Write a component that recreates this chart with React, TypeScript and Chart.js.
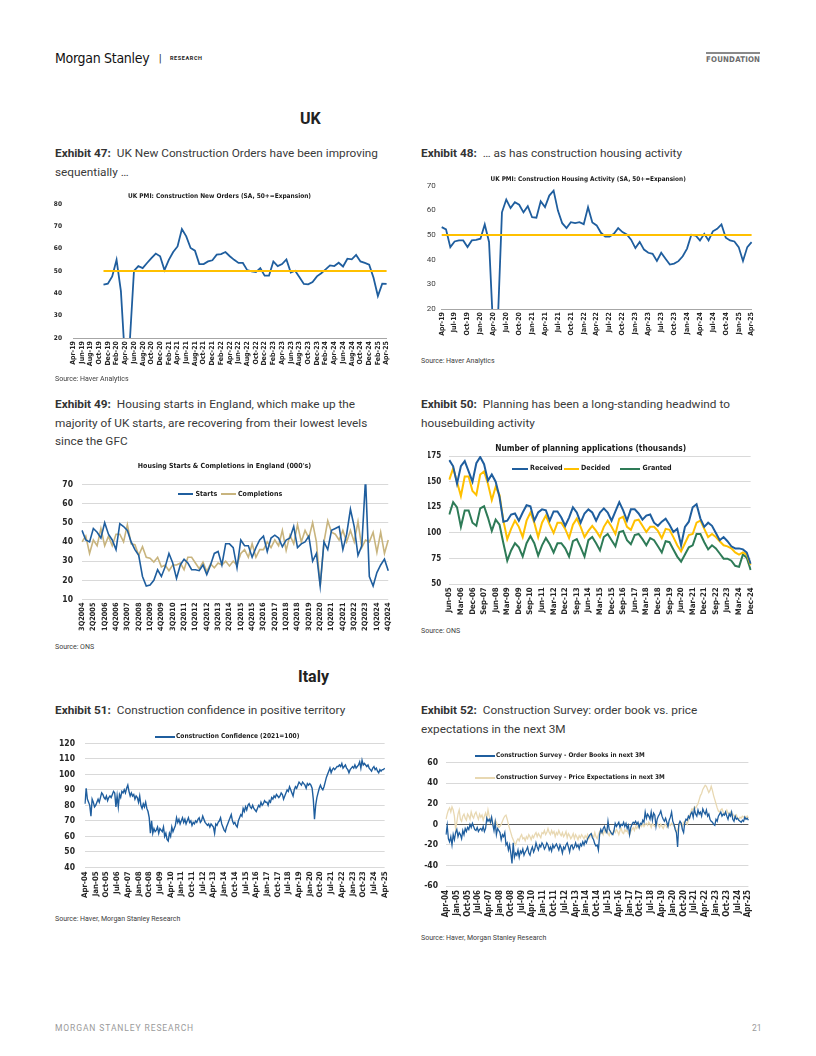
import React, { useEffect, useRef } from "react";
import { Chart, registerables } from "chart.js";

Chart.register(...registerables);

const NARROW = "'Liberation Sans Narrow', 'Arial Narrow', 'DejaVu Sans Condensed', Roboto, sans-serif";
const BODY = "Roboto, 'Liberation Sans', 'DejaVu Sans', sans-serif";

const BLUE = "#1F5E9E";
const GOLD = "#FFC000";
const TAN = "#C8B47E";
const LIGHT_TAN = "#E8D8B2";
const GREEN = "#2E7B57";
const GRID = "#D9D9D9";

const MON = ["Jan", "Feb", "Mar", "Apr", "May", "Jun", "Jul", "Aug", "Sep", "Oct", "Nov", "Dec"];
function monthLabels(y0: number, m0: number, count: number, step = 1): string[] {
  const out: string[] = [];
  for (let i = 0; i < count; i++) {
    const t = m0 + i * step;
    const y = y0 + Math.floor(t / 12);
    out.push(`${MON[t % 12]}-${String(y % 100).padStart(2, "0")}`);
  }
  return out;
}
function quarterLabels(y0: number, q0: number, count: number): string[] {
  const out: string[] = [];
  for (let i = 0; i < count; i++) {
    const t = q0 - 1 + i;
    out.push(`${(t % 4) + 1}Q${y0 + Math.floor(t / 4)}`);
  }
  return out;
}

// ---------- Exhibit 47: UK PMI construction new orders (Apr-19 .. Apr-25) ----------
const ukMonths = monthLabels(2019, 3, 73);
const ukNewOrders: (number | null)[] = [
  null, null, null, null, null, null, null, 43.9, 44.3,
  47.6, 55, 41, 8.2, 17, 50.1, 52.2, 51.3, 53.6, 55.8, 57.8, 56.6,
  50.4, 55, 58.5, 61, 68.8, 65.5, 60.3, 59.1, 53.1, 53.1, 54.3, 54.8,
  57.3, 57.6, 58.5, 56.6, 55, 53.6, 53.6, 50.4, 49.8, 49.5, 51.3, 47.9,
  47.9, 54.3, 52.2, 53.1, 55.2, 49.3, 50.1, 47.2, 44.2, 44, 45.1, 47.6,
  49, 50.7, 52.5, 52.2, 53.7, 52, 55.5, 55.2, 57.2, 54.3, 53.6, 52.8,
  47, 38.8, 44.3, 44.2,
];
const EXPANSION = 50;

// ---------- Exhibit 48: UK PMI construction housing activity ----------
const ukHousing: number[] = [
  53.2, 52.3, 45.1, 47.4, 47.8, 47.8, 45.1, 47.8, 48,
  48.5, 54.3, 47.2, 10, 13, 59.2, 64.4, 60.9, 63.3, 62.3, 59.2, 61.7,
  57.2, 57, 63.7, 61.3, 66, 68, 59.9, 54.8, 52.8, 55.2, 54.8, 55.2,
  54.4, 61.3, 55.1, 53.9, 50.9, 49.4, 49.4, 50.5, 52.8, 51.2, 50.2, 48.1,
  44.7, 47.2, 44.1, 42.8, 42.4, 39.5, 42.8, 40.4, 38, 38.4, 39.4, 41.4,
  44.5, 50.1, 49.8, 47.8, 50.5, 47.8, 51.5, 52.5, 54.3, 48.9, 47.8, 47.4,
  45.1, 39.5, 45.1, 47.1,
];

// ---------- Exhibit 49: Housing starts & completions, England (3Q2004 .. 4Q2024) ----------
const engQuarters = quarterLabels(2004, 3, 82);
const engStarts: number[] = [
  46, 41,
  40, 47, 45, 42,
  50, 44, 41, 36,
  49.5, 48, 46, 40,
  36, 33, 22, 17,
  17.5, 20, 25.5, 22,
  27, 34, 29, 21,
  28, 31, 29, 25.5,
  25.5, 25, 28, 23,
  28, 34, 35, 28,
  39, 39, 37, 26.5,
  41, 38, 38, 32,
  37, 41, 43, 35,
  42, 43.5, 42, 37.5,
  41, 42, 48, 37,
  39, 40, 43, 30,
  34, 17, 40, 36,
  46, 47, 48, 36,
  44, 57, 48, 33,
  38, 73, 22, 17,
  24, 28, 31, 25,
];
const engCompletions: number[] = [
  40, 43,
  34, 41, 38, 47,
  38, 43, 38, 44,
  44, 40, 49, 39,
  38.5, 33, 37.5, 32,
  31.5, 29.5, 32, 27,
  28, 25, 28, 28,
  29, 25.5, 32, 32,
  29, 26, 29.5, 24.5,
  28.5, 26.5, 29, 28,
  30, 27.5, 30, 28,
  34, 36, 32, 39,
  32, 36, 36, 40,
  37, 41, 38, 46,
  35.5, 43.5, 39, 49,
  40, 46, 42, 50,
  40, 17, 40, 51,
  45, 44, 41, 46,
  40, 46, 40, 50.5,
  37, 41, 40, 45,
  34.5, 45, 34, 41,
];

// ---------- Exhibit 50: Planning applications (Jun-05 .. Dec-24, quarterly) ----------
const planQuarters = monthLabels(2005, 5, 79, 3);
const planReceived: number[] = [
  171, 165, 148,
  165, 170, 160, 150,
  168, 174, 167, 151,
  157, 150, 135, 111,
  112, 118, 119, 112,
  120, 127, 126, 112,
  120, 123, 122, 112,
  121, 121, 115, 107,
  115, 125, 120, 110,
  119, 123, 120, 112,
  120, 124, 120, 112,
  121, 130, 122, 112,
  123, 123, 119, 113,
  117, 118, 110, 107,
  111, 114, 108, 101,
  104, 88, 106, 111,
  125, 128, 114, 106,
  110, 107, 100, 93,
  96, 92, 87, 85,
  85, 84, 81, 70,
];
const planDecided: number[] = [
  152, 163, 150,
  136, 155, 155, 141,
  137, 157, 160, 148,
  132, 145, 137, 112,
  94, 104, 112, 106,
  96, 112, 120, 110,
  96, 110, 117, 108,
  100, 110, 110, 104,
  95, 108, 114, 106,
  96, 102, 107, 102,
  96, 106, 112, 106,
  99, 114, 116, 106,
  103, 112, 113, 107,
  101, 106, 106, 102,
  95, 104, 103, 96,
  88, 82, 90, 98,
  99, 110, 112, 104,
  96, 99, 96, 92,
  88, 87, 85, 81,
  79, 81, 79, 69,
];
const planGranted: number[] = [
  118, 130, 125,
  106, 122, 122, 110,
  107, 124, 126, 115,
  102, 113, 108, 90,
  73, 83, 90, 86,
  77, 90, 97, 90,
  78, 88, 95, 89,
  81, 90, 90, 85,
  77, 92, 94, 86,
  77, 93, 96, 90,
  83, 96, 99, 93,
  87, 101, 102, 93,
  89, 98, 99, 94,
  88, 95, 93, 87,
  81, 92, 91, 84,
  77, 72, 79, 86,
  88, 99, 99, 91,
  84, 88, 85, 80,
  75, 75, 73, 68,
  67, 79, 76, 64,
];

// ---------- Exhibit 51: Italy construction confidence (Apr-04 .. Apr-25) ----------
const itMonths = monthLabels(2004, 3, 253);
const itConfidence: number[] = [
  81, 91, 84, 82, 80, 73, 84, 82, 79,
  80, 82, 84, 82, 85, 88, 87, 85, 84, 86, 83, 85,
  86, 85, 87, 89, 88, 79, 86, 79, 87, 85, 89, 88,
  90, 88, 91, 93, 89, 86, 88, 86, 87, 84, 86, 85,
  82, 86, 80, 78, 81, 79, 82, 78, 76, 72, 62, 70,
  62, 65, 63, 64, 66, 62, 65, 64, 63, 66, 60, 62,
  58, 57, 62, 60, 66, 63, 65, 67, 72, 69, 71, 68,
  70, 72, 69, 71, 68, 70, 72, 69, 70, 67, 69, 68,
  70, 69, 71, 72, 69, 70, 73, 71, 69, 68, 67, 68,
  66, 68, 67, 66, 62, 68, 67, 69, 70, 72, 68, 66,
  64, 63, 66, 68, 70, 72, 74, 70, 68, 69, 67, 66,
  70, 72, 74, 73, 78, 76, 79, 77, 80, 81, 79, 78,
  80, 78, 77, 76, 78, 80, 79, 82, 80, 81, 83, 82,
  82, 80, 83, 82, 85, 84, 86, 85, 87, 86, 85, 86,
  88, 87, 84, 86, 88, 90, 89, 92, 90, 88, 86, 90,
  92, 91, 93, 95, 94, 93, 95, 94, 93, 91, 94, 93,
  94, 93, 91, 84, 71, 80, 85, 88, 91, 93, 91, 90,
  92, 95, 98, 100, 102, 104, 101, 103, 104, 103, 104, 105,
  105, 106, 105, 107, 104, 105, 106, 104, 103, 101, 103, 104,
  105, 104, 106, 104, 105, 106, 108, 104, 109, 106, 107, 106,
  105, 106, 104, 103, 102, 104, 105, 103, 104, 102, 101, 103,
  102, 103, 103, 104,
];

// ---------- Exhibit 52: Italy construction survey (Apr-04 .. Apr-25) ----------
const itOrderBooks: number[] = [
  -10, -1, -14, -17, -12, -20, -10, -15, -8,
  -5, -12, -8, -10, -14, -6, -10, -4, -7, -3, -5, 0,
  -3, 1, -2, -5, -6, -3, -7, -5, -4, -6, -2, -7,
  -4, 6, 3, 5, 2, 7, 0, -6, 2, -10, -4, -6,
  -8, -15, -10, -12, -8, -20, -18, -25, -20, -28, -38, -18,
  -32, -28, -30, -25, -32, -26, -28, -24, -30, -27, -25, -22,
  -28, -30, -25, -22, -27, -24, -18, -22, -25, -20, -22, -18,
  -20, -24, -22, -18, -20, -25, -22, -26, -20, -23, -21, -19,
  -22, -25, -20, -23, -28, -22, -24, -20, -18, -22, -27, -21,
  -20, -24, -22, -18, -22, -20, -24, -19, -21, -17, -20, -16,
  -18, -14, -12, -10, -9, -13, -15, -19, -21, -20, -25, -10,
  -5, -8, -4, -2, -6, -8, 3, -5, -7, -9, -10, -6,
  1, -2, 0, 2, -3, 0, -1, 2, -2, 1, -4, -1,
  -10, -3, 0, 2, 1, 3, 0, 2, -3, 1, 0, 4,
  2, 12, 6, 10, 8, 5, 12, 4, 11, 9, -2, 5,
  8, 10, 13, 8, 5, 3, 6, 2, -2, 4, 7, 12,
  3, 0, -5, -8, -22, 0, 3, 1, -5, -8, 2, 5,
  4, 8, 6, 10, 12, 7, 15, 10, 8, 14, 10, 12,
  8, 15, 12, 10, 14, 8, 10, 5, 3, 2, 0, -1,
  5, 3, 8, 10, 12, 8, 10, 9, 12, 8, 5, 10,
  8, 12, 5, 3, 8, 5, 6, 4, 3, 2, 4, 3,
  7, 5, 6, 4,
];
const itPriceExp: number[] = [
  5, 10, 14, 16, 12, 17, 14, 8, -5,
  2, 10, 14, 5, 3, 8, 10, 6, 4, 10, 8, 5,
  12, 8, 6, 10, 12, 8, 5, 10, 7, 9, 4, 8,
  11, 6, 14, 8, 5, 3, 0, -2, 4, 2, -1, -3,
  -2, 0, 3, 6, 8, 9, 5, 0, -4, -8, -12, -15,
  -18, -20, -16, -14, -16, -12, -10, -14, -13, -16, -12, -14,
  -10, -12, -15, -11, -13, -10, -8, -12, -9, -11, -13, -8,
  -9, -6, -10, -8, -4, -8, -10, -6, -9, -7, -12, -8,
  -10, -6, -9, -11, -8, -12, -10, -7, -13, -9, -11, -14,
  -12, -9, -14, -10, -12, -15, -11, -13, -10, -12, -14, -11,
  -13, -10, -14, -12, -9, -11, -13, -8, -12, -14, -10, -7,
  -9, -7, -10, -6, -8, -5, -9, -11, -7, -10, -8, -6,
  -8, -5, -7, -10, -6, -4, -8, -9, -5, -7, -6, -9,
  -10, -7, -5, -3, -6, -2, -4, -1, -3, 0, -2, 1,
  -2, 0, 1, -1, 2, 0, -3, 1, -1, -2, 0, 1,
  -1, -3, 0, -2, -4, -1, 0, -3, -2, 0, -1, 1,
  0, -2, -3, -8, -5, -2, 0, 1, -2, 2, 3, 2,
  0, 4, 8, 12, 15, 14, 17, 16, 18, 20, 24, 28,
  30, 34, 36, 38, 37, 34, 31, 33, 37, 33, 28, 24,
  20, 16, 13, 12, 14, 15, 12, 10, 12, 14, 11, 10,
  12, 9, 10, 8, 7, 9, 6, 5, 7, 6, 8, 7,
  8, 6, 8, 6,
];

// ---------- chart builder ----------
type Box = { x: number; y: number; w: number; h: number };
type Plot = { l: number; t: number; r: number; b: number };
type Spec = {
  canvas: Box;
  plot: Plot;
  xH: number;
  labels: string[];
  every: number;
  datasets: any[];
  yMin: number;
  yMax: number;
  yStep: number;
  yFont: { size: number; weight: string; family?: string };
  yPad: number;
  yColor?: string;
  xFont: { size: number; weight: string };
  xPad: number;
  grid: boolean;
  axisLine: boolean;
  zero?: boolean;
  title?: { text: string; cy: number; size: number };
};

function buildConfig(s: Spec): any {
  const c = s.canvas;
  const p = s.plot;
  const yW = p.l - c.x;
  const padR = c.x + c.w - p.r;
  const padB = c.y + c.h - p.b - s.xH;
  let padT = p.t - c.y;
  let title: any = { display: false };
  if (s.title) {
    const lh = s.title.size * 1.2;
    const top = s.title.cy - lh / 2 - c.y;
    const bottom = p.t - c.y - top - lh;
    title = {
      display: true,
      text: s.title.text,
      color: "#1a1a1a",
      font: { family: NARROW, size: s.title.size, weight: "bold", lineHeight: 1.2 },
      padding: { top, bottom },
    };
    padT = 0;
  }
  return {
    type: "line",
    data: { labels: s.labels, datasets: s.datasets },
    options: {
      responsive: false,
      animation: false,
      events: [],
      layout: { padding: { left: 0, right: padR, top: padT, bottom: padB } },
      elements: { point: { radius: 0 }, line: { tension: 0 } },
      plugins: { legend: { display: false }, tooltip: { enabled: false }, title },
      scales: {
        x: {
          type: "category",
          grid: { display: false, drawTicks: false },
          border: { display: s.axisLine, color: "#A6A6A6", width: 1 },
          ticks: {
            autoSkip: false,
            minRotation: 90,
            maxRotation: 90,
            padding: s.xPad,
            color: "#262626",
            font: { family: NARROW, size: s.xFont.size, weight: s.xFont.weight },
            callback: (_v: any, i: number) => (i % s.every === 0 ? s.labels[i] : null),
          },
          afterFit: (sc: any) => {
            sc.height = s.xH;
          },
        },
        y: {
          type: "linear",
          min: s.yMin,
          max: s.yMax,
          grid: {
            display: s.grid,
            drawTicks: false,
            color: (ctx: any) => (s.zero && ctx.tick && ctx.tick.value === 0 ? "#595959" : GRID),
            lineWidth: 1,
          },
          border: { display: false },
          ticks: {
            stepSize: s.yStep,
            padding: s.yPad,
            color: s.yColor || "#262626",
            font: { family: s.yFont.family || NARROW, size: s.yFont.size, weight: s.yFont.weight },
          },
          afterFit: (sc: any) => {
            sc.width = yW;
          },
        },
      },
    },
  };
}

function line(label: string, data: (number | null)[], color: string, width: number) {
  return { label, data, borderColor: color, backgroundColor: color, borderWidth: width, fill: false, spanGaps: false };
}

const specs: Spec[] = [
  {
    canvas: { x: 49, y: 186, w: 349, h: 190 },
    plot: { l: 73, t: 204, r: 390, b: 338 },
    xH: 36,
    labels: ukMonths,
    every: 2,
    datasets: [
      line("50+ = Expansion", ukNewOrders.map((v) => (v == null ? null : EXPANSION)), GOLD, 2),
      line("UK PMI: Construction New Orders", ukNewOrders, BLUE, 1.8),
    ],
    yMin: 20,
    yMax: 80,
    yStep: 10,
    yFont: { size: 6.5, weight: "bold" },
    yPad: 11,
    xFont: { size: 7, weight: "bold" },
    xPad: 3,
    grid: false,
    axisLine: true,
    title: { text: "UK PMI: Construction New Orders (SA, 50+=Expansion)", cy: 196.7, size: 6.5 },
  },
  {
    canvas: { x: 423, y: 170, w: 340, h: 176 },
    plot: { l: 441.7, t: 185.7, r: 753.3, b: 309 },
    xH: 35,
    labels: ukMonths,
    every: 3,
    datasets: [
      line("50+ = Expansion", ukHousing.map(() => EXPANSION), GOLD, 2),
      line("UK PMI: Construction Housing Activity", ukHousing, BLUE, 1.8),
    ],
    yMin: 20,
    yMax: 70,
    yStep: 5,
    yFont: { size: 8, weight: "normal", family: BODY },
    yPad: 6,
    yColor: "#404040",
    xFont: { size: 7, weight: "bold" },
    xPad: 3,
    grid: false,
    axisLine: true,
    title: { text: "UK PMI: Construction Housing Activity (SA, 50+=Expansion)", cy: 179.3, size: 6.4 },
  },
  {
    canvas: { x: 59, y: 456, w: 341, h: 182 },
    plot: { l: 82, t: 484.3, r: 390, b: 599.5 },
    xH: 36,
    labels: engQuarters,
    every: 3,
    datasets: [line("Starts", engStarts, BLUE, 1.6), line("Completions", engCompletions, TAN, 1.6)],
    yMin: 10,
    yMax: 70,
    yStep: 10,
    yFont: { size: 8.5, weight: "bold" },
    yPad: 9,
    xFont: { size: 7.3, weight: "bold" },
    xPad: 3,
    grid: true,
    axisLine: false,
    title: { text: "Housing Starts & Completions in England (000's)", cy: 466, size: 7 },
  },
  {
    canvas: { x: 428, y: 438, w: 335, h: 186 },
    plot: { l: 449.3, t: 456, r: 753.3, b: 584.3 },
    xH: 38,
    labels: planQuarters,
    every: 3,
    datasets: [
      line("Received", planReceived, BLUE, 2),
      line("Decided", planDecided, GOLD, 2),
      line("Granted", planGranted, GREEN, 2),
    ],
    yMin: 50,
    yMax: 175,
    yStep: 25,
    yFont: { size: 8, weight: "bold" },
    yPad: 8,
    xFont: { size: 7.8, weight: "bold" },
    xPad: 3,
    grid: true,
    axisLine: false,
    title: { text: "Number of planning applications (thousands)", cy: 449, size: 8.3 },
  },
  {
    canvas: { x: 50, y: 728, w: 348, h: 173 },
    plot: { l: 85, t: 743.3, r: 389, b: 867.3 },
    xH: 32,
    labels: itMonths,
    every: 9,
    datasets: [line("Construction Confidence (2021=100)", itConfidence, BLUE, 1.4)],
    yMin: 40,
    yMax: 120,
    yStep: 10,
    yFont: { size: 8.5, weight: "bold" },
    yPad: 10,
    xFont: { size: 7.8, weight: "bold" },
    xPad: 4,
    grid: true,
    axisLine: false,
  },
  {
    canvas: { x: 410, y: 748, w: 352, h: 176 },
    plot: { l: 446, t: 762.7, r: 753, b: 886 },
    xH: 36,
    labels: itMonths,
    every: 9,
    datasets: [
      line("Construction Survey - Order Books in next 3M", itOrderBooks, BLUE, 1.3),
      line("Construction Survey - Price Expectations in next 3M", itPriceExp, LIGHT_TAN, 1.3),
    ],
    yMin: -60,
    yMax: 60,
    yStep: 20,
    yFont: { size: 8.5, weight: "bold" },
    yPad: 8,
    xFont: { size: 8, weight: "bold" },
    xPad: 4,
    grid: true,
    axisLine: false,
    zero: true,
  },
];

function ChartCanvas({ spec }: { spec: Spec }) {
  const ref = useRef<HTMLCanvasElement>(null);
  useEffect(() => {
    const chart = new Chart(ref.current as HTMLCanvasElement, buildConfig(spec));
    return () => chart.destroy();
  }, [spec]);
  const c = spec.canvas;
  return (
    <canvas
      ref={ref}
      width={c.w}
      height={c.h}
      style={{ position: "absolute", left: c.x, top: c.y, width: c.w, height: c.h }}
    />
  );
}

function Txt(props: { x: number; cy: number; size: number; lh?: number; style?: any; children: any }) {
  const lh = props.lh ?? props.size * 1.3;
  return (
    <div
      style={{
        position: "absolute",
        left: props.x,
        top: props.cy - lh / 2,
        fontSize: props.size,
        lineHeight: `${lh}px`,
        whiteSpace: "nowrap",
        fontFamily: BODY,
        ...props.style,
      }}
    >
      {props.children}
    </div>
  );
}

function Exhibit({ x, cy, num, lines }: { x: number; cy: number; num: string; lines: string[] }) {
  return (
    <>
      {lines.map((t, i) => (
        <Txt key={i} x={x} cy={cy + i * 18.5} size={11.8} lh={18} style={{ color: "#3a3a3a" }}>
          {i === 0 ? (
            <>
              <b style={{ color: "#333" }}>{`Exhibit ${num}:`}</b>
              {"\u00a0 " + t}
            </>
          ) : (
            t
          )}
        </Txt>
      ))}
    </>
  );
}

function Source({ x, cy, text }: { x: number; cy: number; text: string }) {
  return (
    <Txt x={x} cy={cy} size={7} style={{ color: "#404040" }}>
      {text}
    </Txt>
  );
}

function LegendItem(p: { lineX: number; lineW: number; textX: number; cy: number; color: string; label: string; size: number; thick?: number }) {
  const thick = p.thick ?? 2;
  return (
    <>
      <div style={{ position: "absolute", left: p.lineX, top: p.cy - thick / 2, width: p.lineW, height: thick, background: p.color }} />
      <Txt x={p.textX} cy={p.cy} size={p.size} lh={p.size * 1.2} style={{ fontFamily: NARROW, fontWeight: "bold", color: "#1a1a1a" }}>
        {p.label}
      </Txt>
    </>
  );
}

export default function App() {
  useEffect(() => {
    document.body.style.margin = "0";
  }, []);
  return (
    <div style={{ position: "absolute", left: 0, top: 0, width: 816, height: 1056, background: "#fff", overflow: "hidden", fontFamily: BODY }}>
      {/* header */}
      <Txt x={55} cy={58.5} size={14} style={{ fontFamily: NARROW, color: "#111", letterSpacing: "-0.3px" }}>
        Morgan Stanley
      </Txt>
      <Txt x={159} cy={58.5} size={10} style={{ color: "#111" }}>
        |
      </Txt>
      <Txt x={170} cy={58.5} size={5.5} style={{ fontWeight: "bold", color: "#222", letterSpacing: "0.6px" }}>
        RESEARCH
      </Txt>
      <div style={{ position: "absolute", left: 706, top: 52, width: 54, height: 2, background: "#8a8a8a" }} />
      <Txt x={706} cy={60} size={7.8} style={{ fontFamily: NARROW, fontWeight: "bold", color: "#6b6b6b", letterSpacing: "0.2px" }}>
        FOUNDATION
      </Txt>

      {/* section heads */}
      <Txt x={300} cy={119} size={16} style={{ fontWeight: "bold", color: "#222" }}>
        UK
      </Txt>
      <Txt x={298} cy={677} size={16} style={{ fontWeight: "bold", color: "#222" }}>
        Italy
      </Txt>

      {/* exhibit titles */}
      <Exhibit x={55} cy={153.3} num="47" lines={["UK New Construction Orders have been improving", "sequentially \u2026"]} />
      <Exhibit x={421} cy={153.3} num="48" lines={["\u2026 as has construction housing activity"]} />
      <Exhibit
        x={55}
        cy={404}
        num="49"
        lines={["Housing starts in England, which make up the", "majority of UK starts, are recovering from their lowest levels", "since the GFC"]}
      />
      <Exhibit x={421} cy={404} num="50" lines={["Planning has been a long-standing headwind to", "housebuilding activity"]} />
      <Exhibit x={55} cy={710} num="51" lines={["Construction confidence in positive territory"]} />
      <Exhibit x={421} cy={710} num="52" lines={["Construction Survey: order book vs. price", "expectations in the next 3M"]} />

      {/* charts */}
      {specs.map((s, i) => (
        <ChartCanvas key={i} spec={s} />
      ))}

      {/* legends */}
      <LegendItem lineX={178} lineW={15} textX={195.5} cy={494.3} color={BLUE} label="Starts" size={7} />
      <LegendItem lineX={221} lineW={15} textX={238} cy={494.3} color={TAN} label="Completions" size={7} />

      <LegendItem lineX={512} lineW={16} textX={530} cy={468.7} color={BLUE} label="Received" size={7.1} />
      <LegendItem lineX={564} lineW={15} textX={581} cy={468.7} color={GOLD} label="Decided" size={7.1} />
      <LegendItem lineX={620} lineW={20} textX={642.5} cy={468.7} color={GREEN} label="Granted" size={7.1} />

      <LegendItem lineX={155} lineW={20} textX={176} cy={737.3} color={BLUE} label="Construction Confidence (2021=100)" size={6.6} />

      <LegendItem lineX={475} lineW={20} textX={496} cy={756} color={BLUE} label="Construction Survey - Order Books in next 3M" size={6.4} />
      <LegendItem lineX={475} lineW={20} textX={496} cy={778.3} color={LIGHT_TAN} label="Construction Survey - Price Expectations in next 3M" size={6.4} />

      {/* sources */}
      <Source x={55} cy={380} text="Source: Haver Analytics" />
      <Source x={421} cy={361.7} text="Source: Haver Analytics" />
      <Source x={55} cy={647.7} text="Source: ONS" />
      <Source x={421} cy={631.7} text="Source: ONS" />
      <Source x={55} cy={920} text="Source: Haver, Morgan Stanley Research" />
      <Source x={421} cy={938.3} text="Source: Haver, Morgan Stanley Research" />

      {/* footer */}
      <Txt x={55} cy={1029} size={8.5} style={{ color: "#9a9a9a", letterSpacing: "0.9px" }}>
        MORGAN STANLEY RESEARCH
      </Txt>
      <Txt x={752} cy={1029} size={8.5} style={{ color: "#9a9a9a" }}>
        21
      </Txt>
    </div>
  );
}
